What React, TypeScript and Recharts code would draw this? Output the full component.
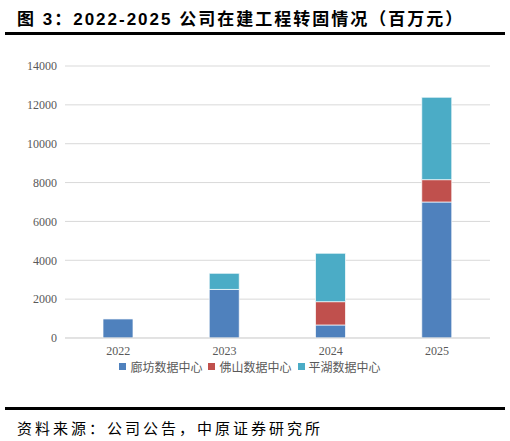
import { BarChart, Bar, XAxis, YAxis, CartesianGrid, Legend } from 'recharts';

const years = ['2022', '2023', '2024', '2025'];
const langfang = [980, 2500, 670, 7000];
const foshan = [0, 0, 1200, 1150];
const pinghu = [0, 830, 2490, 4240];
const yTicks = [0, 2000, 4000, 6000, 8000, 10000, 12000, 14000];
const seriesNames = ['廊坊数据中心', '佛山数据中心', '平湖数据中心'];
const seriesColors = ['#4F81BD', '#C0504D', '#4BACC6'];

const data = years.map((y, i) => ({
  year: y,
  lf: langfang[i],
  fs: foshan[i],
  ph: pinghu[i],
}));

const tickStyle = { fill: '#595959', fontSize: 12, fontFamily: '"Liberation Serif", serif' };

function LegendBox() {
  return (
    <div style={{ display: 'flex', justifyContent: 'center', gap: 6, fontSize: 12, color: '#595959', fontFamily: '"Noto Sans CJK SC", sans-serif' }}>
      {seriesNames.map((n, i) => (
        <span key={n} style={{ display: 'flex', alignItems: 'center' }}>
          <span style={{ display: 'inline-block', width: 7, height: 7, background: seriesColors[i], marginRight: 4 }} />
          {n}
        </span>
      ))}
    </div>
  );
}

export default function App() {
  return (
    <div style={{ position: 'absolute', left: 0, top: 0, width: 510, height: 441, background: '#fff' }}>
      <div
        style={{
          position: 'absolute', left: 17, top: 5,
          fontFamily: '"Liberation Sans", "Noto Sans CJK SC", sans-serif',
          fontWeight: 700, fontSize: 17, letterSpacing: 2, color: '#000', whiteSpace: 'nowrap',
        }}
      >
        图 3：2022-2025 公司在建工程转固情况（百万元）
      </div>
      <div style={{ position: 'absolute', left: 5, top: 32, width: 500, height: 3, background: '#000' }} />

      <div style={{ position: 'absolute', left: 0, top: 40 }}>
        <BarChart width={510} height={345} data={data} margin={{ top: 26, right: 20, left: 10, bottom: 5 }}>
          <CartesianGrid vertical={false} stroke="#D9D9D9" />
          <XAxis
            dataKey="year"
            tick={tickStyle}
            tickLine={false}
            axisLine={{ stroke: '#D9D9D9' }}
            height={20}
          />
          <YAxis
            ticks={yTicks}
            domain={[0, 14000]}
            tick={tickStyle}
            tickLine={false}
            axisLine={false}
            width={55}
          />
          <Legend verticalAlign="bottom" height={22} content={() => <LegendBox />} />
          <Bar dataKey="lf" name={seriesNames[0]} stackId="a" fill={seriesColors[0]} stroke="#fff" strokeWidth={0.7} barSize={30} isAnimationActive={false} />
          <Bar dataKey="fs" name={seriesNames[1]} stackId="a" fill={seriesColors[1]} stroke="#fff" strokeWidth={0.7} barSize={30} isAnimationActive={false} />
          <Bar dataKey="ph" name={seriesNames[2]} stackId="a" fill={seriesColors[2]} stroke="#fff" strokeWidth={0.7} barSize={30} isAnimationActive={false} />
        </BarChart>
      </div>

      <div style={{ position: 'absolute', left: 5, top: 407, width: 500, height: 3, background: '#000' }} />
      <div
        style={{
          position: 'absolute', left: 17, top: 417,
          fontFamily: '"Noto Sans CJK SC", sans-serif', fontSize: 15, letterSpacing: 3, color: '#000', whiteSpace: 'nowrap',
        }}
      >
        资料来源：公司公告，中原证券研究所
      </div>
    </div>
  );
}
